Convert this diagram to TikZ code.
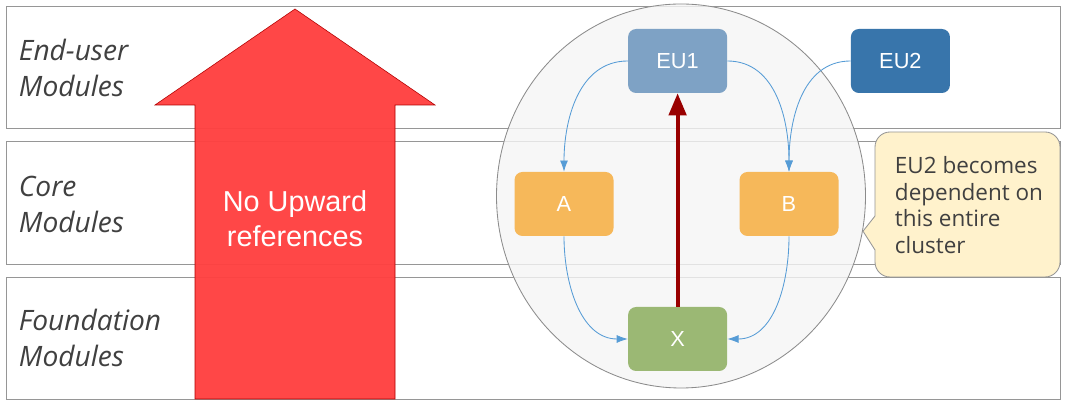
\documentclass[tikz,border=0pt]{standalone}
\usepackage{fontspec}
\setmainfont{Open Sans}
\newfontfamily\arialfont{Liberation Sans}
\usetikzlibrary{arrows.meta}
\usetikzlibrary{positioning}

\definecolor{bandline}{RGB}{150,150,150}
\definecolor{labelgray}{RGB}{64,64,64}
\definecolor{eulight}{RGB}{126,162,197}
\definecolor{eudark}{RGB}{56,117,171}
\definecolor{coreorange}{RGB}{246,184,90}
\definecolor{basegreen}{RGB}{155,184,116}
\definecolor{clustergray}{RGB}{245,245,245}
\definecolor{noteyellow}{RGB}{255,242,204}
\definecolor{linkblue}{RGB}{86,156,214}
\definecolor{arrowred}{RGB}{255,64,64}
\definecolor{backred}{RGB}{153,0,0}

\tikzset{
  module/.style={rectangle,rounded corners=0.2cm,minimum width=2.475cm,minimum height=1.6cm,
    draw=none,text=white,font=\arialfont\fontsize{15.5}{18}\selectfont},
  layername/.style={font=\itshape\fontsize{20}{25.5}\selectfont,text=labelgray,anchor=west,align=left},
  dep/.style={draw=linkblue,line width=0.6pt,-{Latex[length=2.8mm,width=2mm]}}
}

\begin{document}
\begin{tikzpicture}
\useasboundingbox (0,0) rectangle (26.7,10.2);
% layers
\draw[draw=bandline,fill=white,line width=0.7pt] (0.15,6.975) rectangle (26.5,10.025);
\draw[draw=bandline,fill=white,line width=0.7pt] (0.15,3.6) rectangle (26.5,6.65);
\draw[draw=bandline,fill=white,line width=0.7pt] (0.15,0.225) rectangle (26.5,3.275);
\node[layername] (enduser) at (0.35,8.5) {End-user\\Modules};
\node[layername] (core) at (0.35,5.09) {Core\\Modules};
\node[layername] (foundation) at (0.35,1.75) {Foundation\\Modules};

% cluster
\draw[draw=gray!90,fill=clustergray,fill opacity=0.8,line width=0.6pt] (17.025,5.3) ellipse (4.6125 and 4.8);

% no upward arrow
\draw[fill=arrowred,fill opacity=0.96,draw=red!70!black,line width=0.4pt]
  (7.375,9.975) -- (10.875,7.575) -- (9.875,7.575) -- (9.875,0.225)
  -- (4.875,0.225) -- (4.875,7.575) -- (3.875,7.575) -- cycle;
\node[font=\arialfont\fontsize{20.5}{24.8}\selectfont,text=white,align=center] (rule) at (7.375,4.74) {No Upward\\references};

% modules
\node[module,fill=eulight] (EU1) at (16.94,8.675) {EU1};
\node[module,fill=eudark] (EU2) at (22.51,8.675) {EU2};
\node[module,fill=coreorange] (A) at (14.1,5.1) {A};
\node[module,fill=coreorange] (B) at (19.725,5.1) {B};
\node[module,fill=basegreen] (X) at (16.94,1.725) {X};

\draw[dep] (EU1.west) to[out=180,in=90] (A.north);
\draw[dep] (EU1.east) to[out=0,in=90] (B.north);
\draw[dep] (EU2.west) to[out=180,in=90] (B.north);
\draw[dep] (A.south) to[out=-90,in=180] (X.west);
\draw[dep] (B.south) to[out=-90,in=0] (X.east);
\draw[draw=backred,line width=2.8pt,-{Triangle[length=5.5mm,width=4.3mm]}] (X.north) -- (EU1.south);

% callout
\draw[draw=bandline,fill=noteyellow,line width=0.6pt,rounded corners=0.375cm]
  (21.875,4.8) -- (21.875,6.9) -- (26.5,6.9) -- (26.5,3.275) -- (21.875,3.275) -- (21.875,3.95);
\draw[draw=bandline,fill=noteyellow,line width=0.6pt]
  (21.875,3.95) -- (21.575,4.42) -- (21.875,4.8);
\node[font=\fontsize{16}{18.8}\selectfont,text=labelgray,anchor=west,align=left] (note) at (22.25,5.075)
  {EU2 becomes\\dependent on\\this entire\\cluster};
\end{tikzpicture}
\end{document}
